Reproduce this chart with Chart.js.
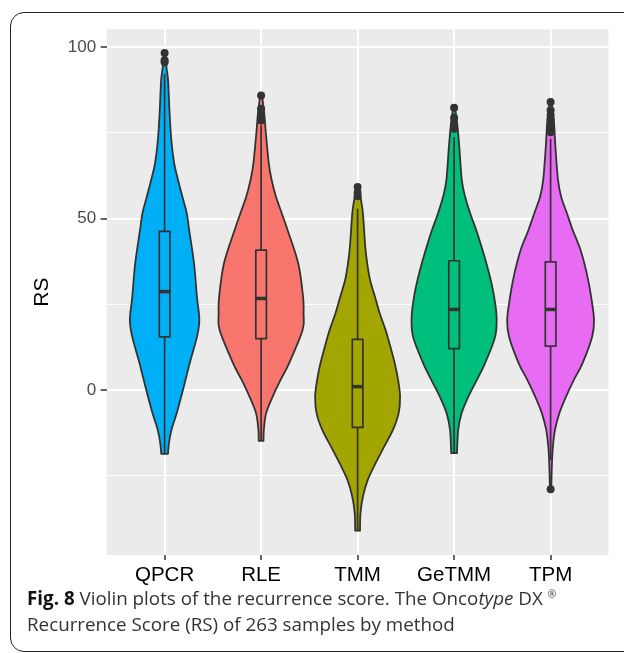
<!DOCTYPE html>
<html>
<head>
<meta charset="utf-8">
<script src="https://cdn.jsdelivr.net/npm/chart.js@4.4.1/dist/chart.umd.min.js"></script>
<style>
html, body { margin: 0; padding: 0; background: #fff; overflow: hidden; }
#wrap { position: relative; width: 624px; height: 653px; overflow: hidden; }
#frame { position: absolute; left: 10px; top: 12px; width: 700px; height: 638px; border: 1.5px solid #222; border-radius: 14px; }
#mycanvas { position: absolute; left: 0; top: 0; }
#caption { position: absolute; left: 27px; top: 586px; font-family: 'Open Sans', sans-serif; font-size: 18.8px; line-height: 25.5px; color: #333; white-space: nowrap; }
#caption b { color: #111; }
#caption sup { font-size: 10px; vertical-align: 7px; line-height: 0; }
</style>
</head>
<body>
<div id="wrap">
	<div id="frame"></div>
	<canvas id="mycanvas" width="624" height="653"></canvas>
	<div id="caption"><b>Fig. 8</b> Violin plots of the recurrence score. The Onco<i>type</i> DX <sup>®</sup><br>Recurrence Score (RS) of 263 samples by method</div>
</div>
<script>
var categories = ['QPCR', 'RLE', 'TMM', 'GeTMM', 'TPM'];
var fills = ['#00B0F6', '#F8766D', '#A3A500', '#00BF7D', '#E76BF3'];

// violin outlines: [RS, half width in category units], top to bottom
var qpcrShape = [[98.3, 0.008], [94, 0.02], [90.3, 0.036], [80.6, 0.052], [72.8, 0.07], [66, 0.1], [61.2, 0.14],
	[56.3, 0.185], [51.5, 0.23], [46.6, 0.255], [36.9, 0.305], [27.2, 0.335], [20.4, 0.36], [15.5, 0.335],
	[7.8, 0.26], [0, 0.19], [-6.8, 0.125], [-11.7, 0.07], [-15.5, 0.045], [-18.6, 0.035]];
var rleShape = [[85.9, 0.01], [80, 0.035], [75.7, 0.047], [66, 0.08], [61.2, 0.11], [56.3, 0.155], [51.5, 0.215],
	[46.6, 0.275], [36.9, 0.385], [27.2, 0.435], [22.3, 0.44], [17.5, 0.43], [7.8, 0.29], [2.9, 0.2],
	[-1.9, 0.12], [-6.8, 0.052], [-11.7, 0.028], [-14.8, 0.025]];
var tmmShape = [[59.2, 0.01], [55.5, 0.035], [51.5, 0.055], [41.7, 0.08], [36.9, 0.1], [32, 0.13], [27.2, 0.18],
	[22.3, 0.23], [17.5, 0.29], [12.6, 0.34], [7.8, 0.385], [2.9, 0.42], [-1.9, 0.44], [-6.8, 0.425],
	[-11.7, 0.365], [-16.5, 0.275], [-21.4, 0.185], [-26.2, 0.105], [-31.1, 0.055], [-35.9, 0.03], [-41, 0.025]];
var getmmShape = [[82.3, 0.01], [77, 0.035], [70.9, 0.054], [61.2, 0.08], [56.3, 0.115], [51.5, 0.167], [46.6, 0.23],
	[41.7, 0.285], [36.9, 0.335], [32, 0.38], [27.2, 0.415], [21.4, 0.44], [15.5, 0.425], [7.8, 0.32],
	[2.9, 0.235], [-1.9, 0.148], [-6.8, 0.077], [-11.7, 0.042], [-18.4, 0.03]];
var tpmShape = [[84, 0.01], [78, 0.035], [70.9, 0.05], [61.2, 0.077], [56.3, 0.11], [51.5, 0.17], [46.6, 0.23],
	[41.7, 0.3], [36.9, 0.35], [32, 0.39], [27.2, 0.42], [20.4, 0.45], [15.5, 0.43], [7.8, 0.33], [2.9, 0.24],
	[-1.9, 0.16], [-6.8, 0.09], [-11.7, 0.045], [-16.5, 0.024], [-21.4, 0.014], [-28.9, 0.007]];
var shapes = [qpcrShape, rleShape, tmmShape, getmmShape, tpmShape];

// box plot stats
var lowerQuartile = [15.5, 15.0, -10.9, 12.1, 12.8];
var medians = [28.7, 26.7, 1.0, 23.5, 23.5];
var upperQuartile = [46.3, 40.8, 14.8, 37.7, 37.4];
var whiskerLow = [-18.6, -14.8, -41.0, -18.4, -20.4];
var whiskerHigh = [92.2, 77.2, 52.9, 73.8, 73.3];
var outliers = [
	[98.3, 96.2, 95.6],
	[85.9, 82.0, 80.5, 79.5, 78.6],
	[59.2, 57.5, 56.5],
	[82.3, 79.4, 77.5, 76.2],
	[84.0, 81.6, 80.2, 79.0, 78.0, 77.0, 76.0, 75.2, -28.9]
];
var yTicks = [-25, 0, 25, 50, 75, 100];

var outlierPoints = [];
for (var i in outliers) {
	for (var j in outliers[i]) {
		outlierPoints.push({x: Number(i) + 1, y: outliers[i][j]});
	}
}

function curveThrough(ctx, pts) {
	for (var k = 0; k < pts.length - 1; k++) {
		var p0 = pts[k - 1] || pts[k], p1 = pts[k], p2 = pts[k + 1], p3 = pts[k + 2] || pts[k + 1];
		ctx.bezierCurveTo(p1.x + (p2.x - p0.x) / 6, p1.y + (p2.y - p0.y) / 6,
			p2.x - (p3.x - p1.x) / 6, p2.y - (p3.y - p1.y) / 6, p2.x, p2.y);
	}
}

var violinPlugin = {
	id: 'violins',
	beforeDraw: function(chart) {
		var a = chart.chartArea, ctx = chart.ctx;
		ctx.save();
		ctx.fillStyle = '#EBEBEB';
		ctx.fillRect(a.left, a.top, a.right - a.left, a.bottom - a.top);
		ctx.restore();
	},
	beforeDatasetsDraw: function(chart) {
		var ctx = chart.ctx, xs = chart.scales.x, ys = chart.scales.y;
		ctx.save();
		ctx.lineJoin = 'round';
		ctx.strokeStyle = '#333333';
		for (var i = 0; i < categories.length; i++) {
			var c = i + 1;
			var right = shapes[i].map(function(p) { return {x: xs.getPixelForValue(c + p[1]), y: ys.getPixelForValue(p[0])}; });
			var left = shapes[i].map(function(p) { return {x: xs.getPixelForValue(c - p[1]), y: ys.getPixelForValue(p[0])}; }).reverse();
			ctx.beginPath();
			ctx.moveTo(right[0].x, right[0].y);
			curveThrough(ctx, right);
			ctx.lineTo(left[0].x, left[0].y);
			curveThrough(ctx, left);
			ctx.closePath();
			ctx.fillStyle = fills[i];
			ctx.fill();
			ctx.lineWidth = 1.8;
			ctx.stroke();

			// box and whiskers
			var bx0 = xs.getPixelForValue(c - 0.055), bx1 = xs.getPixelForValue(c + 0.055), cx = xs.getPixelForValue(c);
			var yq1 = ys.getPixelForValue(lowerQuartile[i]), yq3 = ys.getPixelForValue(upperQuartile[i]);
			ctx.lineWidth = 1.7;
			ctx.beginPath();
			ctx.moveTo(cx, ys.getPixelForValue(whiskerHigh[i]));
			ctx.lineTo(cx, yq3);
			ctx.moveTo(cx, yq1);
			ctx.lineTo(cx, ys.getPixelForValue(whiskerLow[i]));
			ctx.stroke();
			ctx.strokeRect(bx0, yq3, bx1 - bx0, yq1 - yq3);
			ctx.lineWidth = 3.5;
			ctx.beginPath();
			ctx.moveTo(bx0, ys.getPixelForValue(medians[i]));
			ctx.lineTo(bx1, ys.getPixelForValue(medians[i]));
			ctx.stroke();
		}
		ctx.restore();
	}
};

var ctx = document.getElementById('mycanvas');
var chart = new Chart(ctx, {
	type: 'scatter',
	data: {
		datasets: [{
			label: 'outliers',
			data: outlierPoints,
			pointRadius: 4,
			pointBackgroundColor: '#333333',
			pointBorderWidth: 0
		}]
	},
	options: {
		responsive: false,
		animation: false,
		layout: { padding: { top: 29.3, right: 15.5, left: 0, bottom: 0 } },
		plugins: {
			legend: { display: false },
			tooltip: { enabled: false }
		},
		scales: {
			x: {
				type: 'linear',
				min: 0.4,
				max: 5.6,
				afterBuildTicks: function(s) { s.ticks = categories.map(function(c, i) { return {value: i + 1}; }); },
				afterFit: function(s) { s.height = 98; },
				ticks: {
					callback: function(v) { return categories[Math.round(v) - 1]; },
					color: '#000',
					font: { family: 'Liberation Sans', size: 20.5 },
					padding: 3,
					maxRotation: 0,
					autoSkip: false
				},
				grid: { color: '#ffffff', lineWidth: 2, tickColor: '#333333', tickLength: 5, tickWidth: 1.5 },
				border: { display: false }
			},
			y: {
				min: -48.1,
				max: 105.2,
				afterBuildTicks: function(s) { s.ticks = yTicks.map(function(v) { return {value: v}; }); },
				afterFit: function(s) { s.width = 106.7; },
				ticks: {
					callback: function(v) { return v % 50 === 0 ? String(v) : ''; },
					color: '#4d4d4d',
					font: { family: 'Liberation Sans', size: 17 },
					padding: 4.5
				},
				grid: {
					color: '#ffffff',
					lineWidth: function(c) { return c.tick && c.tick.value % 50 === 0 ? 2 : 1; },
					tickColor: function(c) { return c.tick && c.tick.value % 50 === 0 ? '#333333' : 'rgba(0,0,0,0)'; },
					tickLength: 6,
					tickWidth: 1.5
				},
				border: { display: false },
				title: {
					display: true,
					text: 'RS',
					color: '#000',
					font: { family: 'Liberation Sans', size: 21 },
					padding: { top: 29.4, bottom: 0 }
				}
			}
		}
	},
	plugins: [violinPlugin]
});
</script>
</body>
</html>
